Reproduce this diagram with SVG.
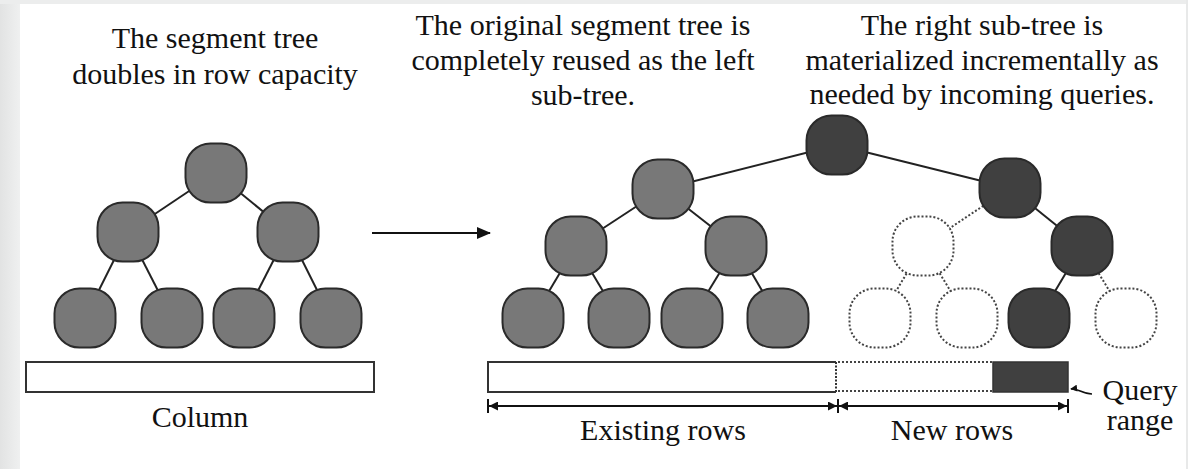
<svg xmlns="http://www.w3.org/2000/svg" width="1188" height="469" viewBox="0 0 1188 469">
<defs>
<linearGradient id="lg" x1="0" y1="0" x2="1" y2="0">
<stop offset="0" stop-color="#e2e3e3"/>
<stop offset="1" stop-color="#eff0f0"/>
</linearGradient>
<marker id="ah" viewBox="0 0 10 10" refX="10" refY="5" markerWidth="10" markerHeight="9" markerUnits="userSpaceOnUse" orient="auto-start-reverse">
<path d="M0,0 L10,5 L0,10 Z" fill="#111"/>
</marker>
<marker id="big" viewBox="0 0 14 12" refX="13" refY="6" markerWidth="14" markerHeight="12" markerUnits="userSpaceOnUse" orient="auto">
<path d="M0,0 L14,6 L0,12 Z" fill="#111"/>
</marker>
<marker id="sm" viewBox="0 0 8 8" refX="1" refY="4" markerWidth="7" markerHeight="7" markerUnits="userSpaceOnUse" orient="auto">
<path d="M8,0 L0,4 L8,8 Z" fill="#111"/>
</marker>
</defs>
<style>
text{font-family:"Liberation Serif","Times New Roman",serif;font-size:30px;fill:#111;text-anchor:middle}
.n{stroke:#2a2a2a;stroke-width:2}
.g{fill:#787878}
.d{fill:#404040}
.o{fill:#fff;stroke:#444;stroke-width:2;stroke-dasharray:2 2}
.e{stroke:#222;stroke-width:2;fill:none}
.ed{stroke:#444;stroke-width:2;fill:none;stroke-dasharray:2 2}
</style>
<rect x="0" y="0" width="1188" height="469" fill="#fff"/>
<rect x="0" y="0" width="20" height="469" fill="url(#lg)"/>
<rect x="0" y="0" width="1188" height="4" fill="#eceded"/>
<rect x="1186" y="0" width="2" height="469" fill="#e8e9e9"/>

<g id="connectors">
<line class="e" x1="216" y1="173" x2="128" y2="232"/>
<line class="e" x1="216" y1="173" x2="288" y2="232"/>
<line class="e" x1="128" y1="232" x2="85" y2="318"/>
<line class="e" x1="128" y1="232" x2="172" y2="318"/>
<line class="e" x1="288" y1="232" x2="244" y2="318"/>
<line class="e" x1="288" y1="232" x2="331" y2="318"/>
<line class="e" x1="837" y1="145" x2="663" y2="189"/>
<line class="e" x1="837" y1="145" x2="1010" y2="188"/>
<line class="e" x1="663" y1="189" x2="576" y2="246"/>
<line class="e" x1="663" y1="189" x2="736" y2="246"/>
<line class="ed" x1="1010" y1="188" x2="923" y2="246"/>
<line class="e" x1="1010" y1="188" x2="1082" y2="246"/>
<line class="e" x1="576" y1="246" x2="533" y2="318"/>
<line class="e" x1="576" y1="246" x2="619" y2="318"/>
<line class="e" x1="736" y1="246" x2="692" y2="318"/>
<line class="e" x1="736" y1="246" x2="778" y2="318"/>
<line class="ed" x1="923" y1="246" x2="880" y2="318"/>
<line class="ed" x1="923" y1="246" x2="967" y2="318"/>
<line class="e" x1="1082" y1="246" x2="1039" y2="318"/>
<line class="ed" x1="1082" y1="246" x2="1126" y2="318"/>
<line x1="372" y1="233" x2="490" y2="233" stroke="#111" stroke-width="2" marker-end="url(#big)"/>
</g>

<g id="left-tree">
<rect id="l-root" class="n g" x="185.5" y="143.5" width="61" height="59" rx="25"/>
<rect id="l-a" class="n g" x="97.5" y="202.5" width="61" height="59" rx="25"/>
<rect id="l-b" class="n g" x="257.5" y="202.5" width="61" height="59" rx="25"/>
<rect id="l-a1" class="n g" x="54.5" y="288.5" width="61" height="59" rx="25"/>
<rect id="l-a2" class="n g" x="141.5" y="288.5" width="61" height="59" rx="25"/>
<rect id="l-b1" class="n g" x="213.5" y="288.5" width="61" height="59" rx="25"/>
<rect id="l-b2" class="n g" x="300.5" y="288.5" width="61" height="59" rx="25"/>
</g>
<g id="column">
<rect x="26" y="362" width="348" height="30" fill="#fff" stroke="#333" stroke-width="2"/>
<text x="200" y="427">Column</text>
</g>

<g id="right-tree">
<rect id="r-root" class="n d" x="806.5" y="115.5" width="61" height="59" rx="25"/>
<rect id="r-L" class="n g" x="632.5" y="159.5" width="61" height="59" rx="25"/>
<rect id="r-R" class="n d" x="979.5" y="158.5" width="61" height="59" rx="25"/>
<rect id="r-LL" class="n g" x="545.5" y="216.5" width="61" height="59" rx="25"/>
<rect id="r-LR" class="n g" x="705.5" y="216.5" width="61" height="59" rx="25"/>
<rect id="r-RL" class="o" x="892.5" y="216.5" width="61" height="59" rx="25"/>
<rect id="r-RR" class="n d" x="1051.5" y="216.5" width="61" height="59" rx="25"/>
<rect id="r-1" class="n g" x="502.5" y="288.5" width="61" height="59" rx="25"/>
<rect id="r-2" class="n g" x="588.5" y="288.5" width="61" height="59" rx="25"/>
<rect id="r-3" class="n g" x="661.5" y="288.5" width="61" height="59" rx="25"/>
<rect id="r-4" class="n g" x="747.5" y="288.5" width="61" height="59" rx="25"/>
<rect id="r-5" class="o" x="849.5" y="288.5" width="61" height="59" rx="25"/>
<rect id="r-6" class="o" x="936.5" y="288.5" width="61" height="59" rx="25"/>
<rect id="r-7" class="n d" x="1008.5" y="288.5" width="61" height="59" rx="25"/>
<rect id="r-8" class="o" x="1095.5" y="288.5" width="61" height="59" rx="25"/>
</g>

<g id="rows">
<path d="M836,362 H488 V392 H836" fill="#fff" stroke="#333" stroke-width="2"/>
<line x1="836" y1="362" x2="836" y2="392" stroke="#333" stroke-width="2" stroke-dasharray="2 1.5"/>
<line x1="838" y1="362" x2="993" y2="362" stroke="#444" stroke-width="2" stroke-dasharray="2 2"/>
<line x1="838" y1="391" x2="993" y2="391" stroke="#444" stroke-width="2" stroke-dasharray="2 2"/>
<rect id="query" x="993" y="362" width="75" height="30" fill="#404040" stroke="#333" stroke-width="1.5"/>
<path d="M1071,389 C1078,388 1082,394 1092,394" fill="none" stroke="#111" stroke-width="1.5" marker-start="url(#sm)"/>
</g>

<g id="dimensions" stroke="#111" stroke-width="2">
<line x1="488" y1="399" x2="488" y2="413"/>
<line x1="838" y1="399" x2="838" y2="413"/>
<line x1="1068" y1="399" x2="1068" y2="413"/>
<line x1="489" y1="406" x2="837" y2="406" marker-start="url(#ah)" marker-end="url(#ah)"/>
<line x1="839" y1="406" x2="1067" y2="406" marker-start="url(#ah)" marker-end="url(#ah)"/>
</g>

<g id="labels">
<text x="215" y="48">The segment tree</text>
<text x="215" y="84">doubles in row capacity</text>
<text x="583" y="35">The original segment tree is</text>
<text x="583" y="70">completely reused as the left</text>
<text x="583" y="105">sub-tree.</text>
<text x="982" y="35">The right sub-tree is</text>
<text x="982" y="70">materialized incrementally as</text>
<text x="982" y="104">needed by incoming queries.</text>
<text x="663" y="440">Existing rows</text>
<text x="952" y="440">New rows</text>
<text x="1140" y="400">Query</text>
<text x="1140" y="430">range</text>
</g>
</svg>
